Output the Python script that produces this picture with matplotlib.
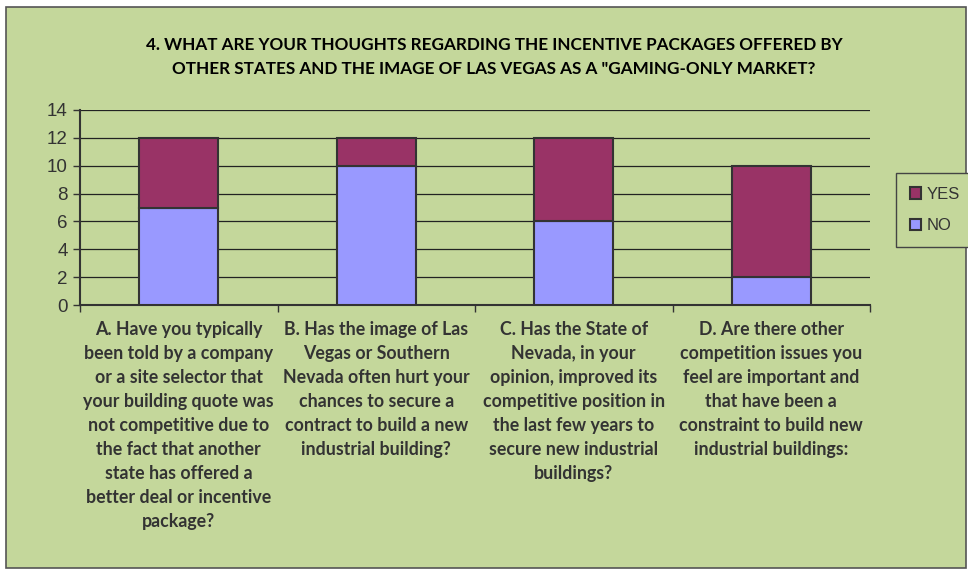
import matplotlib
matplotlib.use('Agg')
import matplotlib.pyplot as plt
from matplotlib.patches import Rectangle
import numpy as np

# Data
categories = [
    "A. Have you typically\nbeen told by a company\nor a site selector that\nyour building quote was\nnot competitive due to\nthe fact that another\nstate has offered a\nbetter deal or incentive\npackage?",
    "B. Has the image of Las\nVegas or Southern\nNevada often hurt your\nchances to secure a\ncontract to build a new\nindustrial building?",
    "C. Has the State of\nNevada, in your\nopinion, improved its\ncompetitive position in\nthe last few years to\nsecure new industrial\nbuildings?",
    "D. Are there other\ncompetition issues you\nfeel are important and\nthat have been a\nconstraint to build new\nindustrial buildings:",
]
no_vals = [7, 10, 6, 2]
yes_vals = [5, 2, 6, 8]
y_ticks = [0, 2, 4, 6, 8, 10, 12, 14]

bg = '#C4D79B'
fig = plt.figure(figsize=(9.68, 5.75), dpi=100, facecolor='white')
# chart area with border, behind everything
fig.patches.append(Rectangle((6 / 968, 7 / 575), 960 / 968, 561 / 575, transform=fig.transFigure,
                             facecolor=bg, edgecolor='#555555', linewidth=1.2, zorder=-10))

ax = fig.add_axes([80 / 968, 1 - 305 / 575, 790 / 968, 195 / 575])
ax.patch.set_alpha(0)

x = np.arange(len(categories))
w = 0.4
ax.bar(x, no_vals, w, color='#9999FF', edgecolor='#333333', linewidth=1.5, label='NO', zorder=3)
ax.bar(x, yes_vals, w, bottom=no_vals, color='#993366', edgecolor='#333333', linewidth=1.5,
       label='YES', zorder=3)

ax.set_xlim(-0.5, len(categories) - 0.5)
ax.set_ylim(0, 14)
ax.set_yticks(y_ticks)
ax.yaxis.grid(True, color='#222222', linewidth=0.9, zorder=0)
ax.set_axisbelow(True)
for s in ['top', 'right']:
    ax.spines[s].set_visible(False)
for s in ['left', 'bottom']:
    ax.spines[s].set_color('#333333')
    ax.spines[s].set_linewidth(1.5)
ax.tick_params(axis='y', length=5, width=1, color='#333333', labelsize=13.5, labelcolor='#333333', pad=4)
for lab in ax.get_yticklabels():
    lab.set_fontfamily('Liberation Sans')
ax.set_xticks(np.arange(len(categories) + 1) - 0.5)
ax.set_xticklabels([])
ax.tick_params(axis='x', length=5, width=1, color='#333333')

for i, txt in enumerate(categories):
    ax.text(i, -1.15, txt, ha='center', va='top', fontsize=12.8, fontweight='bold',
            family=['Lato', 'DejaVu Sans'], color='#333333', linespacing=1.5)

fig.text(494 / 968, 1 - 57 / 575,
         '4. WHAT ARE YOUR THOUGHTS REGARDING THE INCENTIVE PACKAGES OFFERED BY\n'
         'OTHER STATES AND THE IMAGE OF LAS VEGAS AS A "GAMING-ONLY MARKET?',
         ha='center', va='center', fontsize=12.3, fontweight='bold',
         family=['Liberation Sans Narrow', 'Lato'], color='black', linespacing=1.55)

h, l = ax.get_legend_handles_labels()
leg = fig.legend(h[::-1], l[::-1], loc='upper left', bbox_to_anchor=(888 / 968, 1 - 165 / 575),
                 frameon=True, fancybox=False, edgecolor='#444444', facecolor=bg, framealpha=1,
                 handlelength=0.7, handleheight=0.7, handletextpad=0.3, labelspacing=1.0,
                 borderpad=0.8, prop={'family': 'Liberation Sans', 'size': 12})
for t in leg.get_texts():
    t.set_color('#333333')

plt.savefig('out.png', dpi=100, facecolor='white')
